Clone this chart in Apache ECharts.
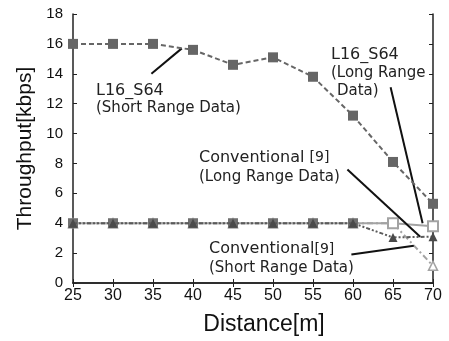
<!DOCTYPE html>
<html><head><meta charset="utf-8">
<script src="https://cdn.jsdelivr.net/npm/echarts@6/dist/echarts.min.js"></script>
<style>html,body{margin:0;padding:0;background:#fff}#c{width:449px;height:341px}</style>
</head><body><div id="c"></div>
<script>
var distances = [25, 30, 35, 40, 45, 50, 55, 60, 65, 70];
var l16ShortRange = [16, 16, 16, 15.6, 14.6, 15.1, 13.8, 11.2, 8.1, 5.3];
var l16LongRange = [4, 4, 4, 4, 4, 4, 4, 4, 4, 3.8];
var convLongRange = [4, 4, 4, 4, 4, 4, 4, 4, 3.05, 3.1];
var convShortRange = [4, 4, 4, 4, 4, 4, 4, 4, 4, 1.15];
var yTicks = [0, 2, 4, 6, 8, 10, 12, 14, 16, 18];
var xTicks = [25, 30, 35, 40, 45, 50, 55, 60, 65, 70];
// callout lines: [from(x,y), to(x,y)] in data units
var calloutL16Short = [[34.8, 14.0], [38.6, 15.7]];
var calloutL16Long = [[64.7, 13.1], [68.7, 4.0]];
var calloutConvLong = [[59.3, 7.6], [68.4, 3.1]];
var calloutConvShort = [[59.8, 1.9], [67.6, 2.5]];

var DARK = '#666666', LIGHT = '#a3a3a3';
function pairs(vals) { return distances.map(function (d, i) { return [d, vals[i]]; }); }
// L16 long range: points overlapped by the other curves show a filled dark square, the last ones are hollow
function l16LongPairs(vals) {
  return distances.map(function (d, i) {
    var hollow = i >= distances.length - 2;
    return { value: [d, vals[i]], itemStyle: hollow ? { color: '#fff', borderColor: LIGHT, borderWidth: 2 } : { color: '#707070', borderColor: '#707070', borderWidth: 0 } };
  });
}
var chart = echarts.init(document.getElementById('c'));
var axisFont = 'Liberation Sans';
function callout(c) { return [{ coord: c[0] }, { coord: c[1] }]; }
var annFont = '"DejaVu Sans"';
chart.setOption({
  animation: false,
  grid: { left: 73, right: 16, top: 14, bottom: 55 },
  xAxis: [{
    type: 'value', min: xTicks[0], max: xTicks[xTicks.length - 1], interval: 5,
    name: 'Distance[m]', nameLocation: 'middle', nameGap: 30,
    nameTextStyle: { fontFamily: axisFont, fontSize: 23, color: '#111', padding: [0, 0, 0, 22] },
    axisLine: { lineStyle: { color: '#222', width: 1.5 } },
    axisTick: { inside: true, length: 4, lineStyle: { color: '#222' } },
    axisLabel: { fontFamily: axisFont, fontSize: 16, color: '#111', margin: 5 },
    splitLine: { show: false }
  }, {
    type: 'value', position: 'top', min: xTicks[0], max: xTicks[xTicks.length - 1], interval: 5,
    axisLine: { lineStyle: { color: '#222', width: 1.5 } },
    axisTick: { inside: true, length: 4, lineStyle: { color: '#222' } },
    axisLabel: { show: false }, splitLine: { show: false }
  }],
  yAxis: [{
    type: 'value', min: yTicks[0], max: yTicks[yTicks.length - 1], interval: 2,
    name: 'Throughput[kbps]', nameLocation: 'middle', nameGap: 36,
    nameTextStyle: { fontFamily: axisFont, fontSize: 21, color: '#111' },
    axisLine: { show: true, lineStyle: { color: '#222', width: 1.5 } },
    axisTick: { show: true, inside: true, length: 4, lineStyle: { color: '#222' } },
    axisLabel: { fontFamily: axisFont, fontSize: 15, color: '#111', margin: 10 },
    splitLine: { show: false }
  }, {
    type: 'value', position: 'right', min: yTicks[0], max: yTicks[yTicks.length - 1], interval: 2,
    axisLine: { show: true, lineStyle: { color: '#222', width: 1.5 } },
    axisTick: { show: true, inside: true, length: 4, lineStyle: { color: '#222' } },
    axisLabel: { show: false }, splitLine: { show: false }
  }],
  series: [
    {
      name: 'Conventional Short', type: 'line', data: pairs(convShortRange),
      symbol: 'triangle', symbolSize: 9,
      lineStyle: { color: LIGHT, width: 2, type: [6, 3, 2, 3] },
      itemStyle: { color: '#fff', borderColor: LIGHT, borderWidth: 1.5 }, z: 2
    },
    {
      name: 'L16 Long', type: 'line', data: l16LongPairs(l16LongRange),
      symbol: 'rect', symbolSize: 10,
      lineStyle: { color: LIGHT, width: 2, type: 'solid' }, z: 3
    },
    {
      name: 'Conventional Long', type: 'line', data: pairs(convLongRange),
      symbol: 'triangle', symbolSize: 9,
      lineStyle: { color: '#5a5a5a', width: 2, type: [4, 2, 2, 2, 2, 2] },
      itemStyle: { color: '#4a4a4a' }, z: 4
    },
    {
      name: 'L16 Short', type: 'line', data: pairs(l16ShortRange),
      symbol: 'rect', symbolSize: 10,
      lineStyle: { color: DARK, width: 2, type: [5, 3] },
      itemStyle: { color: DARK }, z: 5,
      markLine: {
        silent: true, symbol: 'none', animation: false,
        lineStyle: { color: '#111', width: 2, type: 'solid' },
        label: { show: false },
        data: [callout(calloutL16Short), callout(calloutL16Long), callout(calloutConvLong), callout(calloutConvShort)]
      }
    }
  ],
  graphic: [
    { type: 'text', left: 96, top: 83, style: { text: 'L16_S64', font: '16px ' + annFont, fill: '#222' } },
    { type: 'text', left: 96, top: 101, style: { text: '(Short Range Data)', font: '15px ' + annFont, fill: '#222' } },
    { type: 'text', left: 331, top: 47, style: { text: 'L16_S64', font: '16px ' + annFont, fill: '#222' } },
    { type: 'text', left: 331, top: 66, style: { text: '(Long Range', font: '15px ' + annFont, fill: '#222' } },
    { type: 'text', left: 337, top: 84, style: { text: 'Data)', font: '15px ' + annFont, fill: '#222' } },
    { type: 'text', left: 199, top: 150, style: { text: 'Conventional {s|[9]}', font: '16px ' + annFont, fill: '#222', rich: { s: { fontSize: 14, fontFamily: 'DejaVu Sans', verticalAlign: 'top', fill: '#222' } } } },
    { type: 'text', left: 199, top: 170, style: { text: '(Long Range Data)', font: '15px ' + annFont, fill: '#222' } },
    { type: 'text', left: 209, top: 241, style: { text: 'Conventional{s|[9]}', font: '16px ' + annFont, fill: '#222', rich: { s: { fontSize: 14, fontFamily: 'DejaVu Sans', fill: '#222' } } } },
    { type: 'text', left: 209, top: 261, style: { text: '(Short Range Data)', font: '15px ' + annFont, fill: '#222' } }
  ]
});
</script></body></html>
